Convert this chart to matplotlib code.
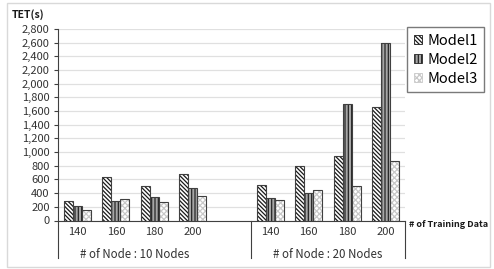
import matplotlib.pyplot as plt
from matplotlib.patches import Patch, Rectangle
from matplotlib.ticker import FuncFormatter
import numpy as np

# Data
training = ["140", "160", "180", "200"]
groups = ["# of Node : 10 Nodes", "# of Node : 20 Nodes"]
model1 = [280, 630, 510, 680, 520, 790, 950, 1660]
model2 = [210, 280, 350, 470, 330, 400, 1710, 2600]
model3 = [150, 320, 270, 360, 300, 450, 510, 870]
models = ["Model1", "Model2", "Model3"]

plt.rcParams["font.family"] = ["Noto Sans CJK KR", "DejaVu Sans"]
plt.rcParams["hatch.linewidth"] = 0.9

fig = plt.figure(figsize=(4.94, 2.69), dpi=100)
fig.patches.append(Rectangle((7 / 494, 2 / 269), 483 / 494, 264 / 269,
                             transform=fig.transFigure, fill=False,
                             edgecolor="#d9d9d9", linewidth=1))
ax = fig.add_axes([58 / 494, 48.5 / 269, 347 / 494, 191.5 / 269])

# category slots: 4 for group 1, one empty slot, 4 for group 2
pos = np.array([0, 1, 2, 3, 5, 6, 7, 8])
w = 0.233
styles = [
    dict(face="white", hatch="\\" * 8, hc="#1a1a1a"),
    dict(face="#a6a6a6", hatch="|" * 5, hc="#262626"),
    dict(face="white", hatch="x" * 6, hc="#c8c8c8"),
]
handles = []
for i, (vals, st) in enumerate(zip([model1, model2, model3], styles)):
    x = pos + (i - 1) * w
    ax.bar(x, vals, w, color=st["face"], hatch=st["hatch"],
           edgecolor=st["hc"], linewidth=0, zorder=3)
    ax.bar(x, vals, w, fill=False, edgecolor="#404040", linewidth=0.8, zorder=4)
    handles.append(Patch(facecolor=st["face"], hatch=st["hatch"],
                         edgecolor=st["hc"], linewidth=0.6))

ax.set_xlim(-0.5, 8.5)
ax.set_ylim(0, 2800)
ax.set_yticks(range(0, 2801, 200))
ax.yaxis.set_major_formatter(FuncFormatter(lambda v, p: f"{int(v):,}"))
ax.yaxis.grid(True, color="#e0e0e0", linewidth=0.9, zorder=0)
ax.set_axisbelow(True)
ax.tick_params(axis="y", labelsize=8, colors="#404040", length=3, width=0.8, pad=3)
ax.tick_params(axis="y", labelcolor="#333333")

for s in ["top", "right"]:
    ax.spines[s].set_visible(False)
ax.spines["left"].set_color("#404040")
ax.spines["bottom"].set_color("#404040")
ax.spines["left"].set_linewidth(0.8)
ax.spines["bottom"].set_linewidth(0.8)

# category ticks
ax.set_xticks(pos)
ax.set_xticklabels(training * 2, fontsize=8, color="#333333")
ax.tick_params(axis="x", length=0, pad=5)

# group labels and separators
trans = ax.get_xaxis_transform()
for sep in [-0.5, 4.5, 8.5]:
    ax.plot([sep, sep], [0, -0.195], transform=trans, color="#404040",
            linewidth=0.8, clip_on=False)
for gx, g in zip([1.5, 6.5], groups):
    ax.text(gx, -0.175, g, transform=trans, ha="center", va="center",
            fontsize=8.3, color="#333333")

ax.text(-0.04, 1.045, "TET(s)", transform=ax.transAxes, ha="right", va="bottom",
        fontsize=7.5, fontweight="bold", color="#1a1a1a")
ax.text(1.012, -0.02, "# of Training Data", transform=ax.transAxes, ha="left",
        va="center", fontsize=6.5, fontweight="bold", color="#1a1a1a")

leg = fig.legend(handles, models, loc="upper left",
                 bbox_to_anchor=(407 / 494, 1 - 27 / 269), fontsize=10.5,
                 frameon=True, fancybox=False, handlelength=0.6, handleheight=0.6,
                 handletextpad=0.35, borderpad=0.45, labelspacing=0.35,
                 borderaxespad=0)
leg.get_frame().set_edgecolor("#595959")
leg.get_frame().set_linewidth(1)
leg._legend_box.align = "right"

fig.savefig("out.png", dpi=100)
